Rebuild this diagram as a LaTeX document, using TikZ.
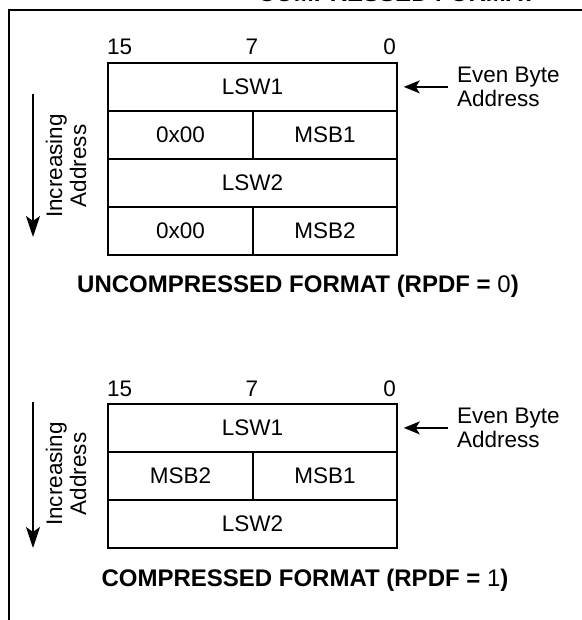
\documentclass[tikz,border=0pt]{standalone}
\usepackage{fontspec}
\setmainfont{Liberation Sans}
\usetikzlibrary{arrows.meta}
\begin{document}
\begin{tikzpicture}[x=1pt,y=-1pt,
  cell/.style={draw, line width=1.8pt, minimum height=48pt, inner sep=0pt,
    anchor=north west, font=\fontsize{22.5}{26}\selectfont},
  bitlbl/.style={inner sep=0pt, font=\fontsize{22.5}{26}\selectfont},
  side/.style={inner sep=0pt, align=left, font=\fontsize{22.5}{24}\selectfont},
  caption/.style={inner sep=0pt, anchor=base, font=\fontsize{24}{28}\selectfont\bfseries},
  arr/.style={line width=1.8pt, -{Stealth[length=16pt,width=13pt,inset=4pt]}},
  longarr/.style={line width=1.8pt, -{Stealth[length=21pt,width=14pt,inset=5pt]}},
  frame/.style={line width=2.2pt}
]
\useasboundingbox (0,0) rectangle (581,620);

% frame
\coordinate (fr1) at (585,10);
\coordinate (fr2) at (9,10);
\coordinate (fr3) at (9,625);
\draw[frame] (fr1) -- (fr2) -- (fr3);

% clipped header
\node[caption] (hdr) at (397,1.5) {COMPRESSED FORMAT};

% ---------- top diagram ----------
\node[cell, minimum width=289pt] (t1) at (107,62) {LSW1};
\node[cell, minimum width=145pt] (t2a) at (107,110) {0x00};
\node[cell, minimum width=144pt] (t2b) at (252,110) {MSB1};
\node[cell, minimum width=289pt] (t3) at (107,158) {LSW2};
\node[cell, minimum width=145pt] (t4a) at (107,206) {0x00};
\node[cell, minimum width=144pt] (t4b) at (252,206) {MSB2};

\node[bitlbl, anchor=base west] (tb15) at (107,55) {15};
\node[bitlbl, anchor=base] (tb7) at (252,55) {7};
\node[bitlbl, anchor=base east] (tb0) at (396,55) {0};

\node[side, anchor=west] (teb) at (457,87) {Even Byte\\Address};
\draw[arr, shorten <=9pt, shorten >=6pt] (teb.west |- t1.east) -- (t1.east);

\coordinate (ta1) at (33,94);
\coordinate (ta2) at (33,237);
\draw[longarr] (ta1) -- (ta2);
\node[side, rotate=90, align=center] (tinc) at (66,166) {Increasing\\Address};

\node[caption] (tcap) at (298,292) {UNCOMPRESSED FORMAT (RPDF = {\mdseries 0})};

% ---------- bottom diagram ----------
\node[cell, minimum width=289pt] (b1) at (107,403) {LSW1};
\node[cell, minimum width=145pt] (b2a) at (107,451) {MSB2};
\node[cell, minimum width=144pt] (b2b) at (252,451) {MSB1};
\node[cell, minimum width=289pt] (b3) at (107,499) {LSW2};

\node[bitlbl, anchor=base west] (bb15) at (107,396) {15};
\node[bitlbl, anchor=base] (bb7) at (252,396) {7};
\node[bitlbl, anchor=base east] (bb0) at (396,396) {0};

\node[side, anchor=west] (beb) at (457,428) {Even Byte\\Address};
\draw[arr, shorten <=9pt, shorten >=6pt] (beb.west |- b1.east) -- (b1.east);

\coordinate (ba1) at (33,402);
\coordinate (ba2) at (33,548);
\draw[longarr] (ba1) -- (ba2);
\node[side, rotate=90, align=center] (binc) at (66,474) {Increasing\\Address};

\node[caption] (bcap) at (305,586) {COMPRESSED FORMAT (RPDF = {\mdseries 1})};
\end{tikzpicture}
\end{document}
